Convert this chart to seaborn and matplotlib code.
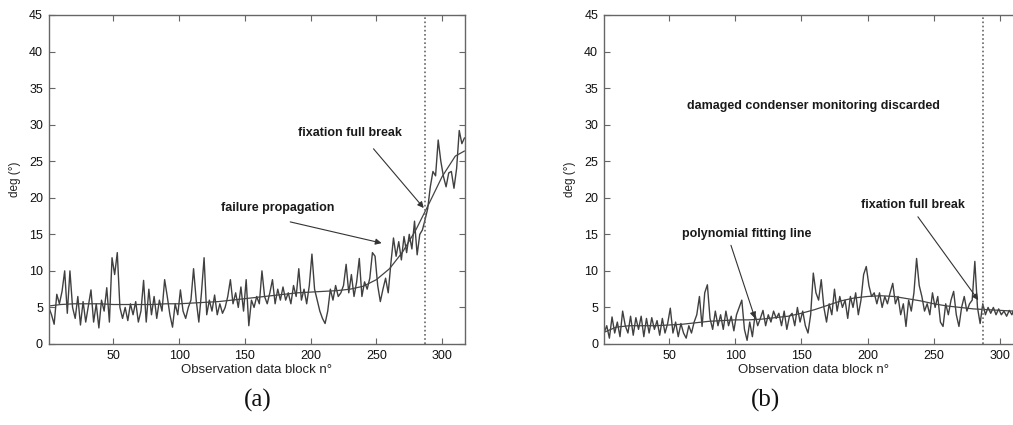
import numpy as np
import pandas as pd
import matplotlib
matplotlib.use("Agg")
import matplotlib.pyplot as plt
import seaborn as sns

# ---------------- data ----------------
# measured angle, every second observation block (1, 3, 5, ... 317)
deg_a = [5.0, 4.0, 2.7, 6.8, 5.5, 7.2, 10.0, 4.2, 10.0, 5.0,
         3.5, 6.5, 2.6, 5.8, 3.0, 5.2, 7.4, 3.0, 5.5, 2.2,
         6.0, 4.5, 7.7, 3.0, 11.8, 9.5, 12.5, 5.0, 3.5, 5.0,
         3.2, 5.5, 4.0, 5.8, 3.0, 4.5, 8.7, 3.0, 7.5, 4.0,
         6.5, 3.5, 6.0, 4.5, 8.8, 6.5, 4.0, 2.3, 5.5, 4.0,
         7.4, 4.5, 3.5, 5.0, 6.0, 10.3, 6.0, 3.0, 7.0, 11.8,
         4.0, 6.0, 4.5, 6.7, 4.0, 5.5, 4.2, 5.0, 6.5, 8.8,
         5.5, 7.0, 5.0, 7.8, 4.5, 8.8, 2.5, 6.0, 5.0, 6.5,
         5.5, 10.0, 6.5, 5.5, 7.0, 8.8, 5.5, 7.5, 6.0, 7.8,
         6.0, 7.0, 5.5, 8.0, 6.5, 10.3, 6.0, 7.5, 5.5, 8.0,
         12.3, 7.5, 6.0, 4.5, 3.5, 2.8, 4.5, 7.5, 6.0, 8.0,
         6.5, 7.0, 8.0, 10.9, 7.0, 9.5, 6.5, 8.5, 11.7, 6.5,
         8.5, 7.5, 9.0, 12.5, 12.0, 8.0, 5.8, 7.5, 9.0, 7.0,
         11.0, 14.5, 12.0, 14.0, 11.5, 14.7, 12.5, 15.0, 13.0, 16.8,
         12.2, 15.0, 15.6, 17.0, 18.5, 21.5, 23.6, 23.0, 27.9, 25.0,
         22.9, 21.5, 23.4, 23.6, 21.3, 24.0, 29.2, 27.4, 28.2]

deg_b = [1.5, 2.5, 0.8, 3.7, 1.5, 3.0, 1.0, 4.5, 2.5, 1.5,
         3.8, 1.2, 3.6, 2.0, 3.8, 1.0, 3.5, 1.5, 3.6, 2.0,
         3.2, 1.2, 3.5, 1.5, 2.8, 4.9, 1.5, 3.0, 1.0, 2.8,
         1.5, 0.8, 2.5, 1.5, 3.0, 4.0, 6.5, 2.4, 7.0, 8.1,
         3.5, 2.0, 4.5, 2.5, 4.0, 2.0, 4.5, 2.5, 3.8, 1.8,
         4.0, 5.0, 6.0, 2.0, 0.5, 3.0, 1.0, 4.0, 2.5, 3.5,
         4.6, 2.5, 4.0, 3.0, 4.5, 3.5, 4.2, 2.5, 4.5, 2.0,
         3.8, 4.2, 2.5, 5.0, 3.0, 4.5, 2.5, 1.5, 4.0, 9.7,
         7.0, 6.0, 8.8, 5.0, 3.0, 5.5, 4.0, 7.5, 4.5, 6.5,
         5.0, 6.0, 3.5, 6.5, 5.0, 7.0, 4.0, 6.0, 9.5, 10.6,
         8.0, 6.5, 7.0, 5.5, 7.0, 5.0, 6.5, 5.5, 7.0, 8.3,
         5.5, 6.5, 4.0, 5.5, 2.4, 6.0, 4.5, 7.0, 11.7, 8.0,
         6.5, 4.5, 5.5, 4.0, 7.0, 5.0, 6.5, 3.0, 2.4, 5.5,
         4.0, 6.0, 7.2, 4.0, 2.4, 5.0, 6.5, 4.5, 5.5, 6.0,
         11.3, 5.0, 2.8, 5.5, 4.0, 5.0, 4.2, 5.0, 4.0, 4.8,
         4.0, 4.5, 3.8, 4.6, 4.0, 5.0, 4.2, 5.2, 4.5]

# polynomial fitting lines
fit_blocks = [1, 10, 20, 30, 40, 50, 60, 70, 80, 90, 100, 110, 120, 130, 140, 150,
              160, 170, 180, 190, 200, 210, 220, 230, 240, 250, 260, 270, 280, 290,
              300, 310, 317]
fit_a = [5.2, 5.4, 5.5, 5.5, 5.5, 5.4, 5.4, 5.4, 5.4, 5.5, 5.5, 5.6, 5.7, 5.8, 6.0, 6.2,
         6.4, 6.6, 6.8, 7.0, 7.1, 7.2, 7.3, 7.5, 7.9, 8.8, 10.3, 12.6, 15.6, 19.2,
         22.9, 25.7, 26.4]
fit_b = [1.6, 2.3, 2.5, 2.5, 2.5, 2.6, 2.7, 2.9, 3.1, 3.2, 3.3, 3.3, 3.4, 3.6, 3.8, 4.2,
         4.7, 5.3, 5.9, 6.3, 6.5, 6.6, 6.5, 6.2, 5.9, 5.5, 5.2, 5.0, 4.8, 4.7,
         4.6, 4.5, 4.4]

break_block = 287
x_ticks = [50, 100, 150, 200, 250, 300]
y_ticks = [0, 5, 10, 15, 20, 25, 30, 35, 40, 45]
captions = ["(a)", "(b)"]
xlabel = "Observation data block n°"
ylabel = "deg (°)"

# ---------------- style ----------------
sns.set_style("ticks")
plt.rcParams["font.family"] = ["Liberation Sans", "DejaVu Sans"]

W, H = 1013, 425
fig = plt.figure(figsize=(W / 100, H / 100), dpi=100)
ax_a = fig.add_axes([48.5 / W, 81 / H, 416 / W, 329 / H])
ax_b = fig.add_axes([603.7 / W, 81 / H, 418.8 / W, 329 / H])

spine_col = "#666666"


def draw(ax, deg, fit, annots, cap, cap_x):
    blocks = np.arange(1, 2 * len(deg), 2)
    df = pd.DataFrame({"block": blocks, "deg": deg})
    dff = pd.DataFrame({"block": fit_blocks, "deg": fit})
    sns.lineplot(data=df, x="block", y="deg", ax=ax, color="#404040", lw=1.0)
    sns.lineplot(data=dff, x="block", y="deg", ax=ax, color="#444444", lw=0.9)
    ax.axvline(break_block, color="#666666", lw=1.2, ls=(0, (1, 1.5)))
    ax.set_xlim(0.7, 317)
    ax.set_ylim(0, 45)
    ax.set_xticks(x_ticks)
    ax.set_yticks(y_ticks)
    ax.tick_params(direction="in", length=4, width=0.8, color=spine_col,
                   labelsize=9, labelcolor="#111111", top=True, right=True, pad=4)
    for s in ax.spines.values():
        s.set_color(spine_col)
        s.set_linewidth(1.0)
    ax.set_xlabel(xlabel, fontsize=9.5, color="#222222", labelpad=2)
    ax.set_ylabel(ylabel, fontsize=8.5, color="#222222", labelpad=6)
    for text, tx, ty, ax0, ay0, ax1, ay1 in annots:
        ax.text(tx, ty, text, ha="center", va="center", fontsize=9,
                fontweight="bold", color="#1a1a1a")
        if ax0 is not None:
            ax.annotate("", xy=(ax1, ay1), xytext=(ax0, ay0),
                        arrowprops=dict(arrowstyle="-|>", color="#333333", lw=0.8,
                                        mutation_scale=9, shrinkA=0, shrinkB=0))
    fig.text(cap_x / W, 1 - 400 / H, cap, ha="center", va="center",
             fontsize=18, family=["Liberation Serif", "DejaVu Serif"], color="#111111")


annots_a = [
    ("fixation full break", 230, 28.9, 247.8, 26.7, 286, 18.6),
    ("failure propagation", 174.6, 18.6, 184.5, 16.7, 254, 13.8),
]
annots_b = [
    ("damaged condenser monitoring discarded", 159, 32.6, None, None, None, None),
    ("polynomial fitting line", 108.7, 15.1, 96.8, 13.5, 115, 3.5),
    ("fixation full break", 234, 19.0, 238, 17.4, 283.6, 6.0),
]

draw(ax_a, deg_a, fit_a, annots_a, captions[0], 258)
draw(ax_b, deg_b, fit_b, annots_b, captions[1], 765)

fig.savefig("out.png", dpi=100)
